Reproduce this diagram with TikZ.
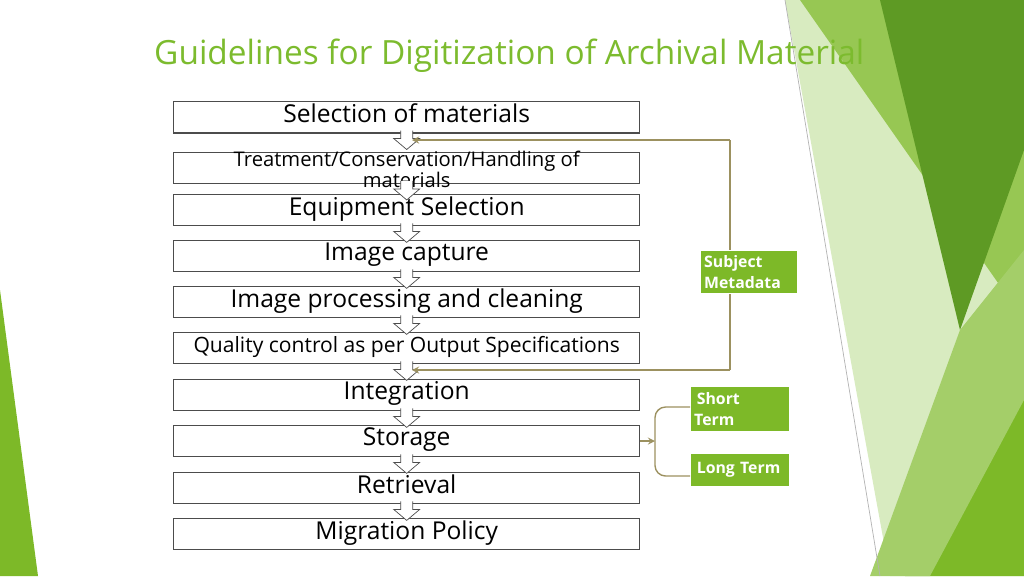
\documentclass[tikz,border=0pt]{standalone}
\usepackage{fontspec}
\setmainfont{Open Sans}
\usetikzlibrary{positioning}
\definecolor{titlegreen}{HTML}{7CBB2E}
\definecolor{leafgreen}{HTML}{7DB928}
\definecolor{palegreen}{HTML}{D8EBC0}
\definecolor{darkleaf}{HTML}{5E9A24}
\definecolor{linkolive}{HTML}{9C9160}
\tikzstyle{stepbox} = [draw=black!70, thick, fill=white, minimum width=466*0.02cm, minimum height=31*0.02cm, anchor=north west, inner sep=1pt, font=\fontsize{14}{14}\selectfont, text depth=5pt]
\tikzstyle{tagbox} = [fill=leafgreen, draw=white, thick, text=white, align=left, anchor=north west, inner sep=2pt, font=\fontsize{9}{12}\selectfont\bfseries]
\begin{document}
\begin{tikzpicture}[x=0.02cm, y=-0.02cm]
\useasboundingbox (0,0) rectangle (1024,576);
% Background
\fill[palegreen] (785,0) -- (1024,0) -- (1024,576) -- (890,576) -- cycle;
\fill[leafgreen!80] (800,0) -- (1024,0) -- (1024,320) -- cycle;
\fill[darkleaf] (880,0) -- (1024,0) -- (1024,150) -- (960,330) -- cycle;
\fill[leafgreen] (905,576) -- (1024,360) -- (1024,576) -- cycle;
\fill[leafgreen!70] (870,576) -- (960,330) -- (1024,250) -- (1024,400) -- (930,576) -- cycle;
\fill[leafgreen] (0,290) -- (38,576) -- (0,576) -- cycle;
\draw[gray!60] (785,0) -- (880,576);

\node[anchor=west, text=titlegreen, font=\fontsize{19}{19}\selectfont] (title) at (148,56) {Guidelines for Digitization of Archival Material};

% Steps
\foreach \name/\top/\lab in {s1/101/Selection of materials,
  s3/194/Equipment Selection, s4/240/Image capture,
  s5/286/Image processing and cleaning, s7/379/Integration,
  s8/425/Storage, s9/472/Retrieval, s10/518/Migration Policy}
  \node[stepbox] (\name) at (173,\top) {\lab};
\node[stepbox, font=\fontsize{11.5}{11}\selectfont, align=center, text depth=0pt, minimum height=31*0.02cm, inner sep=0pt, yshift=-2pt] (s2) at (173,148) {\rule{0pt}{8pt}\\[-14pt]};
\node[font=\fontsize{11.5}{12}\selectfont, align=center] (s2text) at ([yshift=-1pt]s2.center) {Treatment/Conservation/Handling of\\materials};
\node[stepbox, font=\fontsize{12}{12}\selectfont, text depth=4pt] (s6) at (173,332) {Quality control as per Output Specifications};

% Chevrons
\foreach \a/\b in {s1/s2, s2/s3, s3/s4, s4/s5, s5/s6, s6/s7, s7/s8, s8/s9, s9/s10}
  \draw[black!70, fill=white] (\a.south) +(-6,-3) -- +(-6,5) -- +(-13,5) -- +(0,16) -- +(13,5) -- +(6,5) -- +(6,-3);

% Side tags
\coordinate (loopR) at (730,140);
\coordinate (loopB) at (730,370);
\draw[linkolive, thick, ->, >=stealth] (loopB) -- (412,370);
\draw[linkolive, thick, ->, >=stealth] (loopR) -- (412,140);
\draw[linkolive, thick] (loopR) -- (loopB);
\node[tagbox, text width=90*0.02cm, minimum height=43*0.02cm] (meta) at (700,250) {Subject\\Metadata};
\node[tagbox, text width=92*0.02cm, minimum height=45*0.02cm] (short) at (690,386) {\,Short\\Term};
\node[tagbox, text width=92*0.02cm, minimum height=33*0.02cm] (long) at (690,453) {\,Long Term};

% Bracket
\coordinate (brk) at (655,441);
\draw[linkolive, thick, ->, >=stealth] (s8.east |- brk) -- (brk);
\draw[linkolive, thick, rounded corners=6] (short.west |- 0,407) -- (655,407) -- (655,476) -- (long.west |- 0,476);
\end{tikzpicture}
\end{document}
